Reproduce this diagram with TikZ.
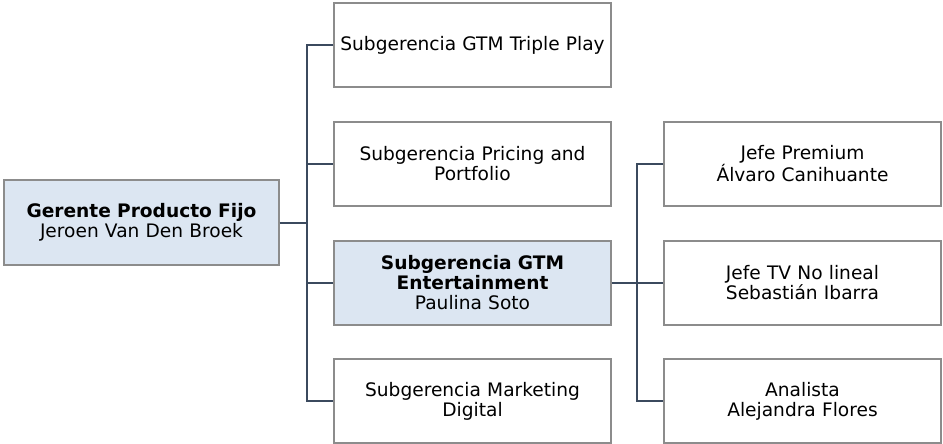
\documentclass[tikz,border=0pt]{standalone}
\usepackage{fontspec}
\setmainfont{DejaVu Sans}
\definecolor{boxfill}{HTML}{DCE6F2}
\definecolor{boxline}{HTML}{8C8C8C}
\definecolor{conn}{HTML}{3B4A5E}
\tikzset{
  orgbox/.style={draw=boxline, line width=1.2pt, fill=white, minimum width=277pt, minimum height=84pt, text width=274pt, align=center, inner sep=0pt, font=\fontsize{18.6}{20}\selectfont},
  hibox/.style={orgbox, fill=boxfill},
  link/.style={draw=conn, line width=2.4pt}
}
\begin{document}
\begin{tikzpicture}[x=1pt,y=-1pt]
\useasboundingbox (0,0) rectangle (943,444);
\node[hibox, minimum width=275pt, minimum height=85pt] (gf) at (141.5,222.5) {\textbf{Gerente Producto Fijo}\\Jeroen Van Den Broek};
\node[orgbox] (tp) at (472.5,45) {Subgerencia GTM Triple Play};
\node[orgbox] (pp) at (472.5,164) {Subgerencia Pricing and\\Portfolio};
\node[hibox] (ent) at (472.5,283) {\textbf{Subgerencia GTM}\\\textbf{Entertainment}\\Paulina Soto};
\node[orgbox] (md) at (472.5,401) {Subgerencia Marketing\\Digital};
\node[orgbox] (jp) at (802.5,164) {Jefe Premium\\Álvaro Canihuante};
\node[orgbox] (tv) at (802.5,283) {Jefe TV No lineal\\Sebastián Ibarra};
\node[orgbox] (an) at (802.5,401) {Analista\\Alejandra Flores};
\coordinate (t1) at (307,223);
\coordinate (t2) at (637,283);
\draw[link] (gf.east |- t1) -- (t1);
\draw[link] (tp.west) -| (t1 |- tp.west) |- (md.west);
\draw[link] (t1 |- pp.west) -- (pp.west);
\draw[link] (t1 |- ent.west) -- (ent.west);
\draw[link] (ent.east) -- (t2);
\draw[link] (jp.west) -| (t2 |- jp.west) |- (an.west);
\draw[link] (t2 |- tv.west) -- (tv.west);
\end{tikzpicture}
\end{document}
